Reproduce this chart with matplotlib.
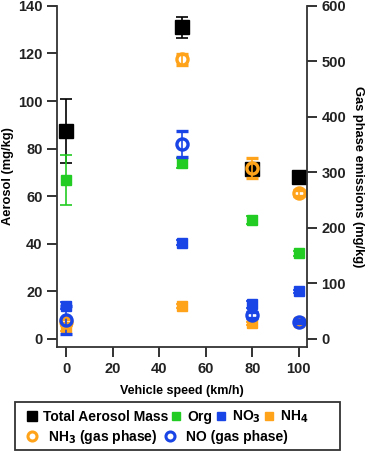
import matplotlib
matplotlib.use('Agg')
from matplotlib import pyplot as plt
from matplotlib.lines import Line2D
from matplotlib.patches import Rectangle

plt.rcParams['font.family'] = ['Liberation Sans', 'DejaVu Sans']
plt.rcParams['font.weight'] = 'bold'

speed = [0, 50, 80, 100]

# aerosol (mg/kg), left axis
total_mass = [87.5, 131, 71.5, 68]
total_err = [13.5, 4.5, 2, 1]
org = [67, 74, 50, 36]
org_err = [10.5, 2, 1.5, 1]
no3 = [14, 40.5, 14.5, 20]
no3_err = [1.5, 1, 1.5, 0.5]
nh4 = [5, 14, 6.5, 7]
nh4_err = [1.5, 0.8, 0.8, 0.5]

# gas phase (mg/kg), right axis
nh3_gas = [30, 504, 308, 263]
nh3_err = [5, 10, 18, 5]
no_gas = [34, 351, 43, 31]
no_err = [25, 23, 5, 3]

GREEN = '#22cc22'
BLUE = '#1a45e6'
ORANGE = '#ffa31a'

fig = plt.figure(figsize=(3.68, 4.53), dpi=100)
ax = fig.add_axes([0.155, 0.234, 0.679, 0.753])
ax2 = ax.twinx()

ekw = dict(linestyle='none', capsize=4, elinewidth=1.2, capthick=1.2)
ax.errorbar(speed, total_mass, yerr=total_err, marker='s', ms=10, color='black', **ekw)
ax.errorbar(speed, org, yerr=org_err, marker='s', ms=6.5, color=GREEN, **ekw)
ax.errorbar(speed, no3, yerr=no3_err, marker='s', ms=6.5, color=BLUE, **ekw)
ax.errorbar(speed, nh4, yerr=nh4_err, marker='s', ms=6.5, color=ORANGE, **ekw)

ax2.errorbar(speed, nh3_gas, yerr=nh3_err, marker='o', ms=8, mfc='none', mew=2.4, color=ORANGE, **ekw)
ax2.errorbar(speed, no_gas, yerr=no_err, marker='o', ms=8, mfc='none', mew=2.4, color=BLUE, **ekw)

ax.set_xlim(-3.9, 103.5)
ax.set_ylim(-3.4, 140)
ax2.set_ylim(-3.4 * 600 / 140, 600)
ax.set_xticks([0, 20, 40, 60, 80, 100])
ax.set_yticks(range(0, 141, 20))
ax2.set_yticks(range(0, 601, 100))

for a in (ax, ax2):
    a.spines['top'].set_visible(False)
    a.tick_params(direction='out', length=7, width=1.3, labelsize=10.5, colors='#222222')
    for s in a.spines.values():
        s.set_linewidth(1.3)
        s.set_color('#333333')
ax.spines['right'].set_visible(False)
ax2.spines['left'].set_visible(False)
ax2.spines['bottom'].set_visible(False)

ax.set_xlabel('Vehicle speed (km/h)', fontsize=9, fontweight='bold', labelpad=7)
ax.set_ylabel('Aerosol (mg/kg)', fontsize=9.3, fontweight='bold', labelpad=3)
ax2.set_ylabel('Gas phase emissions (mg/kg)', fontsize=9.3, fontweight='bold',
               rotation=270, labelpad=13)

# legend in two rows inside one frame
def sq(c, ms):
    return Line2D([], [], linestyle='none', marker='s', ms=ms, color=c)

def ring(c):
    return Line2D([], [], linestyle='none', marker='o', ms=6.5, mfc='none', mew=2.2, color=c)

row1 = [sq('black', 6.5), sq(GREEN, 5.5), sq(BLUE, 5.5), sq(ORANGE, 5.5)]
row1_labels = ['Total Aerosol Mass', 'Org', 'NO$_3$', 'NH$_4$']
row2 = [ring(ORANGE), ring(BLUE)]
row2_labels = ['NH$_3$ (gas phase)', 'NO (gas phase)']

lkw = dict(frameon=False, handlelength=0.8, borderpad=0, loc='center left')
fig.legend(row1, row1_labels, ncol=4, fontsize=10, handletextpad=0.4, columnspacing=0.2,
           bbox_to_anchor=(0.052, 0.08), **lkw)
fig.legend(row2, row2_labels, ncol=2, fontsize=10, handletextpad=0.75, columnspacing=0.5,
           bbox_to_anchor=(0.054, 0.035), **lkw)
fig.patches.append(Rectangle((0.041, 0.007), 0.883, 0.105, transform=fig.transFigure,
                             fill=False, edgecolor='#333333', linewidth=1.3))

fig.savefig('out.png', dpi=100)
